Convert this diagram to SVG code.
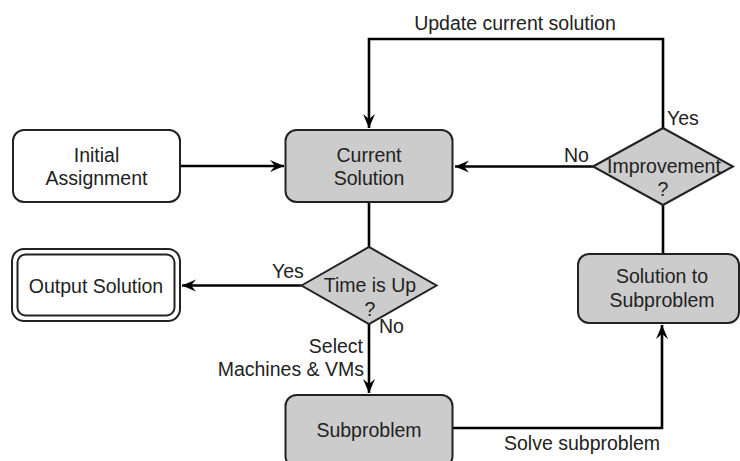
<svg xmlns="http://www.w3.org/2000/svg" width="740" height="461" viewBox="0 0 740 461">
<defs>
<style>
text{font-family:"Liberation Sans",Arial,sans-serif;font-size:19.5px;fill:#222;}
.c{text-anchor:middle;}
.r{text-anchor:end;}
.box{stroke:#222;stroke-width:2;}
.w{fill:#fff;}
.g{fill:#cccccc;}
.ln{fill:none;stroke:#000;stroke-width:2.6;}
</style>
<marker id="ah" viewBox="-15 -7 16 14" refX="0" refY="0" markerWidth="16" markerHeight="14" markerUnits="userSpaceOnUse" orient="auto">
<path d="M0,0 L-14,-6 L-9,0 L-14,6 Z" fill="#000"/>
</marker>
</defs>
<rect width="740" height="461" fill="#fff"/>
<g id="connectors">
<path class="ln" d="M180,166 H284" marker-end="url(#ah)"/>
<path class="ln" d="M593,166.5 H455" marker-end="url(#ah)"/>
<path class="ln" d="M663,128 V39 H369 V128" marker-end="url(#ah)"/>
<path class="ln" d="M369,202 V247"/>
<path class="ln" d="M301.5,285.5 H182" marker-end="url(#ah)"/>
<path class="ln" d="M369,324 V393" marker-end="url(#ah)"/>
<path class="ln" d="M453,428 H662 V325" marker-end="url(#ah)"/>
<path class="ln" d="M663,205 V254"/>
<text x="515" y="30" class="c">Update current solution</text>
<text x="667" y="125">Yes</text>
<text x="564" y="162">No</text>
<text x="272" y="278">Yes</text>
<text x="379" y="333">No</text>
<text x="363" y="353" class="r">Select</text>
<text x="364" y="376" class="r">Machines &amp; VMs</text>
<text x="504" y="450">Solve subproblem</text>
</g>
<g id="initial">
<rect class="box w" x="13" y="130" width="167" height="72" rx="11"/>
<text x="96.5" y="162" class="c">Initial</text>
<text x="96.5" y="185" class="c">Assignment</text>
</g>
<g id="current">
<rect class="box g" x="285.5" y="130" width="167" height="72" rx="11"/>
<text x="369" y="162" class="c">Current</text>
<text x="369" y="185" class="c">Solution</text>
</g>
<g id="improvement">
<polygon class="box g" points="593,166.5 663,128 733,166.5 663,205"/>
<text x="664" y="173" class="c">Improvement</text>
<text x="663" y="196" class="c">?</text>
</g>
<g id="timeup">
<polygon class="box g" points="301.5,285.5 369,247 436.5,285.5 369,324"/>
<text x="370" y="292" class="c">Time is Up</text>
<text x="370" y="316" class="c">?</text>
</g>
<g id="output">
<rect class="box w" x="12" y="249" width="168" height="72" rx="12"/>
<rect class="box w" x="17.5" y="254.5" width="157" height="61" rx="8"/>
<text x="96" y="293" class="c">Output Solution</text>
</g>
<g id="subproblem">
<rect class="box g" x="285.5" y="395" width="167" height="72" rx="11"/>
<text x="369" y="437" class="c">Subproblem</text>
</g>
<g id="solution">
<rect class="box g" x="578" y="254" width="161" height="69" rx="11"/>
<text x="662" y="283" class="c">Solution to</text>
<text x="662" y="307" class="c">Subproblem</text>
</g>
</svg>
